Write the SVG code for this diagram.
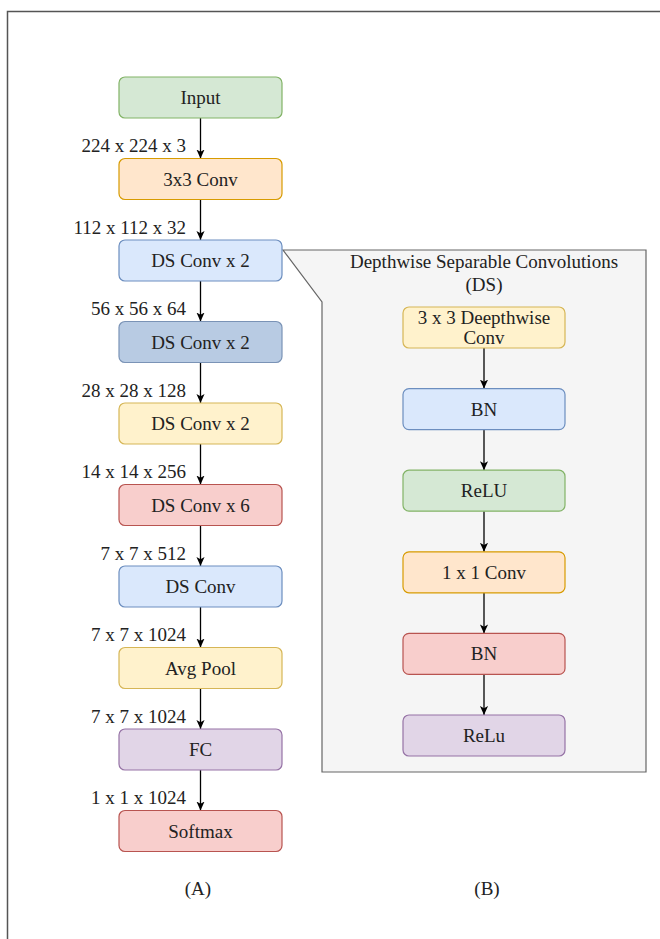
<svg xmlns="http://www.w3.org/2000/svg" width="660" height="939" viewBox="0 0 660 939">
<defs>
<marker id="arr" viewBox="0 0 10 10" refX="10" refY="5" markerWidth="9" markerHeight="10" markerUnits="userSpaceOnUse" orient="auto">
<path d="M0,0.5 L10,5 L0,9.5 L2.5,5 z" fill="#000"/>
</marker>
<style>
text{font-family:"Liberation Serif","Times New Roman",serif;font-size:19px;fill:#222}
.c{text-anchor:middle}
.l{text-anchor:end}
.box{stroke-width:1.2}
.green{fill:#d5e8d4;stroke:#82b366}
.orange{fill:#ffe6cc;stroke:#d79b00}
.blue{fill:#dae8fc;stroke:#6c8ebf}
.dblue{fill:#b8cbe3;stroke:#7a93b6}
.yellow{fill:#fff2cc;stroke:#d6b656}
.red{fill:#f8cecc;stroke:#b85450}
.purple{fill:#e1d5e7;stroke:#9673a6}
.edge{stroke:#000;stroke-width:1.3;fill:none;marker-end:url(#arr)}
</style>
</defs>
<rect width="660" height="939" fill="#fff"/>
<path d="M7.5,939 L7.5,11.5 L660,11.5" fill="none" stroke="#555" stroke-width="1.5"/>

<g id="ds-panel">
<path d="M283,250 L646,250 L646,772 L322,772 L322,302 Z" fill="#f5f5f5" stroke="#666" stroke-width="1.2"/>
<text class="c" x="484" y="268">Depthwise Separable Convolutions</text>
<text class="c" x="484" y="291">(DS)</text>
</g>

<g id="connectors">
<line class="edge" x1="200.5" y1="118" x2="200.5" y2="158.5"/>
<line class="edge" x1="200.5" y1="199.5" x2="200.5" y2="240"/>
<line class="edge" x1="200.5" y1="281" x2="200.5" y2="321.5"/>
<line class="edge" x1="200.5" y1="362.5" x2="200.5" y2="403"/>
<line class="edge" x1="200.5" y1="444" x2="200.5" y2="484.5"/>
<line class="edge" x1="200.5" y1="525.5" x2="200.5" y2="566"/>
<line class="edge" x1="200.5" y1="607" x2="200.5" y2="647.5"/>
<line class="edge" x1="200.5" y1="688.5" x2="200.5" y2="729"/>
<line class="edge" x1="200.5" y1="770" x2="200.5" y2="810.5"/>
<line class="edge" x1="484" y1="348" x2="484" y2="388.6"/>
<line class="edge" x1="484" y1="429.6" x2="484" y2="470.2"/>
<line class="edge" x1="484" y1="511.2" x2="484" y2="551.8"/>
<line class="edge" x1="484" y1="592.8" x2="484" y2="633.4"/>
<line class="edge" x1="484" y1="674.4" x2="484" y2="715"/>
</g>

<g id="edge-labels">
<text class="l" x="186" y="152">224 x 224 x 3</text>
<text class="l" x="186" y="233.5">112 x 112 x 32</text>
<text class="l" x="186" y="315">56 x 56 x 64</text>
<text class="l" x="186" y="396.5">28 x 28 x 128</text>
<text class="l" x="186" y="478">14 x 14 x 256</text>
<text class="l" x="186" y="559.5">7 x 7 x 512</text>
<text class="l" x="186" y="641">7 x 7 x 1024</text>
<text class="l" x="186" y="722.5">7 x 7 x 1024</text>
<text class="l" x="186" y="804">1 x 1 x 1024</text>
</g>

<g id="input"><rect class="box green" x="119" y="77" width="163" height="41" rx="6"/><text class="c" x="200.5" y="104">Input</text></g>
<g id="conv3x3"><rect class="box orange" x="119" y="158.5" width="163" height="41" rx="6"/><text class="c" x="200.5" y="185.5">3x3 Conv</text></g>
<g id="ds1"><rect class="box blue" x="119" y="240" width="163" height="41" rx="6"/><text class="c" x="200.5" y="267">DS Conv x 2</text></g>
<g id="ds2"><rect class="box dblue" x="119" y="321.5" width="163" height="41" rx="6"/><text class="c" x="200.5" y="348.5">DS Conv x 2</text></g>
<g id="ds3"><rect class="box yellow" x="119" y="403" width="163" height="41" rx="6"/><text class="c" x="200.5" y="430">DS Conv x 2</text></g>
<g id="ds4"><rect class="box red" x="119" y="484.5" width="163" height="41" rx="6"/><text class="c" x="200.5" y="511.5">DS Conv x 6</text></g>
<g id="ds5"><rect class="box blue" x="119" y="566" width="163" height="41" rx="6"/><text class="c" x="200.5" y="593">DS Conv</text></g>
<g id="avgpool"><rect class="box yellow" x="119" y="647.5" width="163" height="41" rx="6"/><text class="c" x="200.5" y="674.5">Avg Pool</text></g>
<g id="fc"><rect class="box purple" x="119" y="729" width="163" height="41" rx="6"/><text class="c" x="200.5" y="756">FC</text></g>
<g id="softmax"><rect class="box red" x="119" y="810.5" width="163" height="41" rx="6"/><text class="c" x="200.5" y="837.5">Softmax</text></g>

<g id="dwconv"><rect class="box yellow" x="403" y="307" width="162" height="41" rx="6"/><text class="c" x="484" y="324">3 x 3 Deepthwise</text><text class="c" x="484" y="344">Conv</text></g>
<g id="bn1"><rect class="box blue" x="403" y="388.6" width="162" height="41" rx="6"/><text class="c" x="484" y="415.6">BN</text></g>
<g id="relu1"><rect class="box green" x="403" y="470.2" width="162" height="41" rx="6"/><text class="c" x="484" y="497.2">ReLU</text></g>
<g id="conv1x1"><rect class="box orange" x="403" y="551.8" width="162" height="41" rx="6"/><text class="c" x="484" y="578.8">1 x 1 Conv</text></g>
<g id="bn2"><rect class="box red" x="403" y="633.4" width="162" height="41" rx="6"/><text class="c" x="484" y="660.4">BN</text></g>
<g id="relu2"><rect class="box purple" x="403" y="715" width="162" height="41" rx="6"/><text class="c" x="484" y="742">ReLu</text></g>

<g id="captions">
<text class="c" x="198" y="895">(A)</text>
<text class="c" x="487" y="895">(B)</text>
</g>
</svg>
